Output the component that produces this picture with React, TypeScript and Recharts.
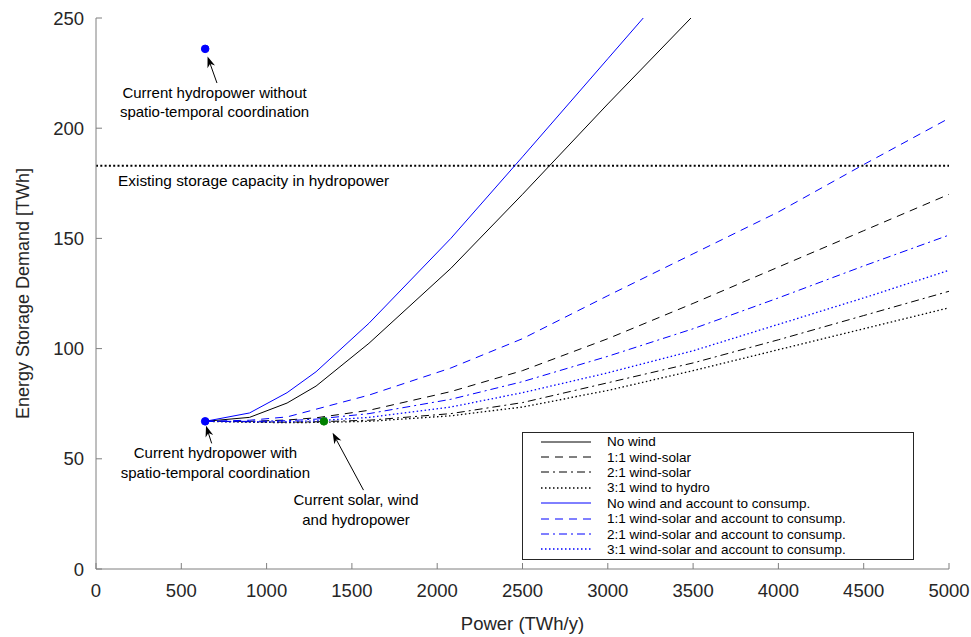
import React from "react";
import {
  ComposedChart,
  Line,
  XAxis,
  YAxis,
  ReferenceLine,
  ReferenceDot,
} from "recharts";

// x positions (TWh/y) shared by all curves
const powerTWh = [640, 900, 1120, 1290, 1600, 2080, 2500, 3000, 3500, 4000, 4500, 5000];

// storage demand (TWh) per scenario
const noWind = [67, 68.8, 75.3, 83, 102.4, 136.4, 170, 211, 251, 292, 333, 374];
const windSolar11 = [67, 67, 67.6, 68.6, 72, 80.5, 90, 104.5, 120.5, 137, 153.5, 170];
const windSolar21 = [67, 66.8, 66.6, 66.8, 67.5, 70.5, 75.5, 84.5, 93.5, 104, 115, 126];
const windHydro31 = [67, 66.6, 66.4, 66.5, 67, 69.5, 73.5, 81, 90, 99.5, 109, 118.5];
const noWindCons = [67, 70.8, 80, 89.5, 111.5, 150, 187, 231.5, 276, 320, 365, 410];
const windSolar11Cons = [67, 67.5, 69, 72.5, 78.9, 91.2, 104.5, 124, 143, 162, 183.5, 204.5];
const windSolar21Cons = [67, 67, 67.3, 68, 70.5, 77, 85, 96.5, 109, 123, 137.5, 151.5];
const windSolar31Cons = [67, 66.8, 66.8, 67.2, 68.8, 73.5, 80, 89, 99, 111, 123, 135.5];

const xTicks = [0, 500, 1000, 1500, 2000, 2500, 3000, 3500, 4000, 4500, 5000];
const yTicks = [0, 50, 100, 150, 200, 250];

const storageCapacity = 183;
const hydroWithout = { x: 640, y: 236 };
const hydroWith = { x: 640, y: 67 };
const currentMix = { x: 1336, y: 67 };

const notes = [
  { x: 695, y: 216, lines: ["Current hydropower without", "spatio-temporal coordination"] },
  { x: 700, y: 52.6, lines: ["Current hydropower with", "spatio-temporal coordination"] },
  { x: 1524, y: 31.3, lines: ["Current solar, wind", "and hydropower"] },
];

const arrows = [
  { from: { x: 709, y: 220.5 }, to: { x: 654, y: 232.5 } },
  { from: { x: 678, y: 57 }, to: { x: 645, y: 65 } },
  { from: { x: 1568, y: 35.8 }, to: { x: 1387, y: 61.8 } },
];

const BLUE = "#0000ff";
const BLACK = "#000000";
const SOLID = undefined;
const DASH = "8 6";
const DASHDOT = "8 4 2 4";
const DOT = "1.5 2.5";

const series = [
  { key: "noWind", label: "No wind", values: noWind, color: BLACK, dash: SOLID, width: 1 },
  { key: "ws11", label: "1:1 wind-solar", values: windSolar11, color: BLACK, dash: DASH, width: 1 },
  { key: "ws21", label: "2:1 wind-solar", values: windSolar21, color: BLACK, dash: DASHDOT, width: 1 },
  { key: "wh31", label: "3:1 wind to hydro", values: windHydro31, color: BLACK, dash: DOT, width: 1.3 },
  { key: "noWindC", label: "No wind and account to consump.", values: noWindCons, color: BLUE, dash: SOLID, width: 1 },
  { key: "ws11C", label: "1:1 wind-solar and account to consump.", values: windSolar11Cons, color: BLUE, dash: DASH, width: 1 },
  { key: "ws21C", label: "2:1 wind-solar and account to consump.", values: windSolar21Cons, color: BLUE, dash: DASHDOT, width: 1 },
  { key: "ws31C", label: "3:1 wind-solar and account to consump.", values: windSolar31Cons, color: BLUE, dash: DOT, width: 1.3 },
];

const data = powerTWh.map((x, i) => {
  const row: Record<string, number> = { x };
  series.forEach((s) => {
    row[s.key] = s.values[i];
  });
  return row;
});

const AXIS = "#7f7f7f";
const TEXT = "#262626";
const FONT = '"Liberation Sans", Arial, Helvetica, sans-serif';

function BottomTick(props: any) {
  const { x, y, payload } = props;
  return (
    <g>
      <line x1={x} x2={x} y1={y} y2={y - 6} stroke={AXIS} />
      <text x={x} y={y + 28} textAnchor="middle" fontSize={18.5} fill={TEXT} fontFamily={FONT}>
        {payload.value}
      </text>
    </g>
  );
}

function LeftTick(props: any) {
  const { x, y, payload } = props;
  return (
    <g>
      <line x1={x} x2={x + 6} y1={y} y2={y} stroke={AXIS} />
      <text x={x - 12} y={y + 6.5} textAnchor="end" fontSize={18.5} fill={TEXT} fontFamily={FONT}>
        {payload.value}
      </text>
    </g>
  );
}

function TopTick(props: any) {
  const { x, y } = props;
  return <line x1={x} x2={x} y1={y} y2={y + 6} stroke={AXIS} />;
}

function RightTick(props: any) {
  const { x, y } = props;
  return <line x1={x} x2={x - 6} y1={y} y2={y} stroke={AXIS} />;
}

function Arrow(props: any) {
  const { x1, y1, x2, y2 } = props;
  const ang = Math.atan2(y2 - y1, x2 - x1);
  const len = 11;
  const half = 4;
  const bx = x2 - len * Math.cos(ang);
  const by = y2 - len * Math.sin(ang);
  const nx = -Math.sin(ang);
  const ny = Math.cos(ang);
  const mx = x2 - len * 0.7 * Math.cos(ang);
  const my = y2 - len * 0.7 * Math.sin(ang);
  return (
    <g>
      <line x1={x1} y1={y1} x2={mx} y2={my} stroke={BLACK} strokeWidth={1} />
      <polygon
        points={`${x2},${y2} ${bx + nx * half},${by + ny * half} ${mx},${my} ${bx - nx * half},${by - ny * half}`}
        fill={BLACK}
      />
    </g>
  );
}

function noteShape(lines: string[]) {
  return (props: any) => (
    <text
      x={props.cx}
      textAnchor="middle"
      fontSize={15}
      fill={BLACK}
      fontFamily={FONT}
    >
      {lines.map((t, i) => (
        <tspan key={i} x={props.cx} y={props.cy + 5 + i * 19.5}>
          {t}
        </tspan>
      ))}
    </text>
  );
}

function Legendbox() {
  return (
    <div
      style={{
        position: "absolute",
        left: 522,
        top: 432,
        width: 392,
        height: 128,
        boxSizing: "border-box",
        border: "1px solid #262626",
        background: "#fff",
        paddingTop: 1,
        fontFamily: FONT,
        fontSize: 13.5,
        color: BLACK,
      }}
    >
      {series.map((s) => (
        <div key={s.key} style={{ height: 15.4, display: "flex", alignItems: "center" }}>
          <svg width={52} height={10} style={{ marginLeft: 17 }}>
            <line
              x1={1}
              x2={51}
              y1={5}
              y2={5}
              stroke={s.color}
              strokeWidth={s.width}
              strokeDasharray={s.dash}
            />
          </svg>
          <span style={{ marginLeft: 15, lineHeight: "15px" }}>{s.label}</span>
        </div>
      ))}
    </div>
  );
}

export default function App() {
  return (
    <div style={{ position: "absolute", left: 0, top: 0, width: 971, height: 637, background: "#fff" }}>
      <ComposedChart
        width={971}
        height={637}
        data={data}
        margin={{ top: 18, right: 22, bottom: 0, left: 0 }}
      >
        <XAxis
          dataKey="x"
          type="number"
          domain={[0, 5000]}
          ticks={xTicks}
          interval={0}
          allowDataOverflow
          height={68}
          stroke={AXIS}
          tickLine={false}
          tickSize={0}
          tickMargin={0}
          tick={<BottomTick />}
          label={{
            content: (p: any) => (
              <text
                x={p.viewBox.x + p.viewBox.width / 2}
                y={p.viewBox.y + 61}
                textAnchor="middle"
                fontSize={18.5}
                fill={TEXT}
                fontFamily={FONT}
              >
                Power (TWh/y)
              </text>
            ),
          }}
        />
        <XAxis
          xAxisId="top"
          orientation="top"
          type="number"
          domain={[0, 5000]}
          ticks={xTicks}
          interval={0}
          allowDataOverflow
          height={0}
          stroke={AXIS}
          tickLine={false}
          tickSize={0}
          tickMargin={0}
          tick={<TopTick />}
        />
        <YAxis
          type="number"
          domain={[0, 250]}
          ticks={yTicks}
          interval={0}
          allowDataOverflow
          width={96}
          stroke={AXIS}
          tickLine={false}
          tickSize={0}
          tickMargin={0}
          tick={<LeftTick />}
          label={{
            content: (p: any) => {
              const cx = p.viewBox.x + 23;
              const cy = p.viewBox.y + p.viewBox.height / 2;
              return (
                <text
                  x={cx}
                  y={cy}
                  transform={`rotate(-90 ${cx} ${cy})`}
                  textAnchor="middle"
                  dominantBaseline="central"
                  fontSize={18}
                  fill={TEXT}
                  fontFamily={FONT}
                >
                  Energy Storage Demand [TWh]
                </text>
              );
            },
          }}
        />
        <YAxis
          yAxisId="right"
          orientation="right"
          type="number"
          domain={[0, 250]}
          ticks={yTicks}
          interval={0}
          allowDataOverflow
          width={0}
          stroke={AXIS}
          tickLine={false}
          tickSize={0}
          tickMargin={0}
          tick={<RightTick />}
        />

        <ReferenceLine
          y={storageCapacity}
          stroke={BLACK}
          strokeWidth={2}
          strokeDasharray="2 2.3"
        />
        <ReferenceDot
          x={129}
          y={176.5}
          r={1}
          shape={(p: any) => (
            <text x={p.cx} y={p.cy + 6} fontSize={15.4} fill={BLACK} fontFamily={FONT}>
              Existing storage capacity in hydropower
            </text>
          )}
        />

        {series.map((s) => (
          <Line
            key={s.key}
            dataKey={s.key}
            type="linear"
            stroke={s.color}
            strokeWidth={s.width}
            strokeDasharray={s.dash}
            dot={false}
            activeDot={false}
            isAnimationActive={false}
          />
        ))}

        {arrows.map((a, i) => (
          <ReferenceLine
            key={`arrow-${i}`}
            segment={[a.from, a.to]}
            shape={<Arrow />}
          />
        ))}

        {notes.map((n, i) => (
          <ReferenceDot key={`note-${i}`} x={n.x} y={n.y} r={1} shape={noteShape(n.lines)} />
        ))}

        <ReferenceDot x={hydroWithout.x} y={hydroWithout.y} r={3.8} fill={BLUE} stroke={BLUE} />
        <ReferenceDot x={hydroWith.x} y={hydroWith.y} r={3.8} fill={BLUE} stroke={BLUE} />
        <ReferenceDot x={currentMix.x} y={currentMix.y} r={3.8} fill="#008000" stroke="#008000" />
      </ComposedChart>
      <Legendbox />
    </div>
  );
}
